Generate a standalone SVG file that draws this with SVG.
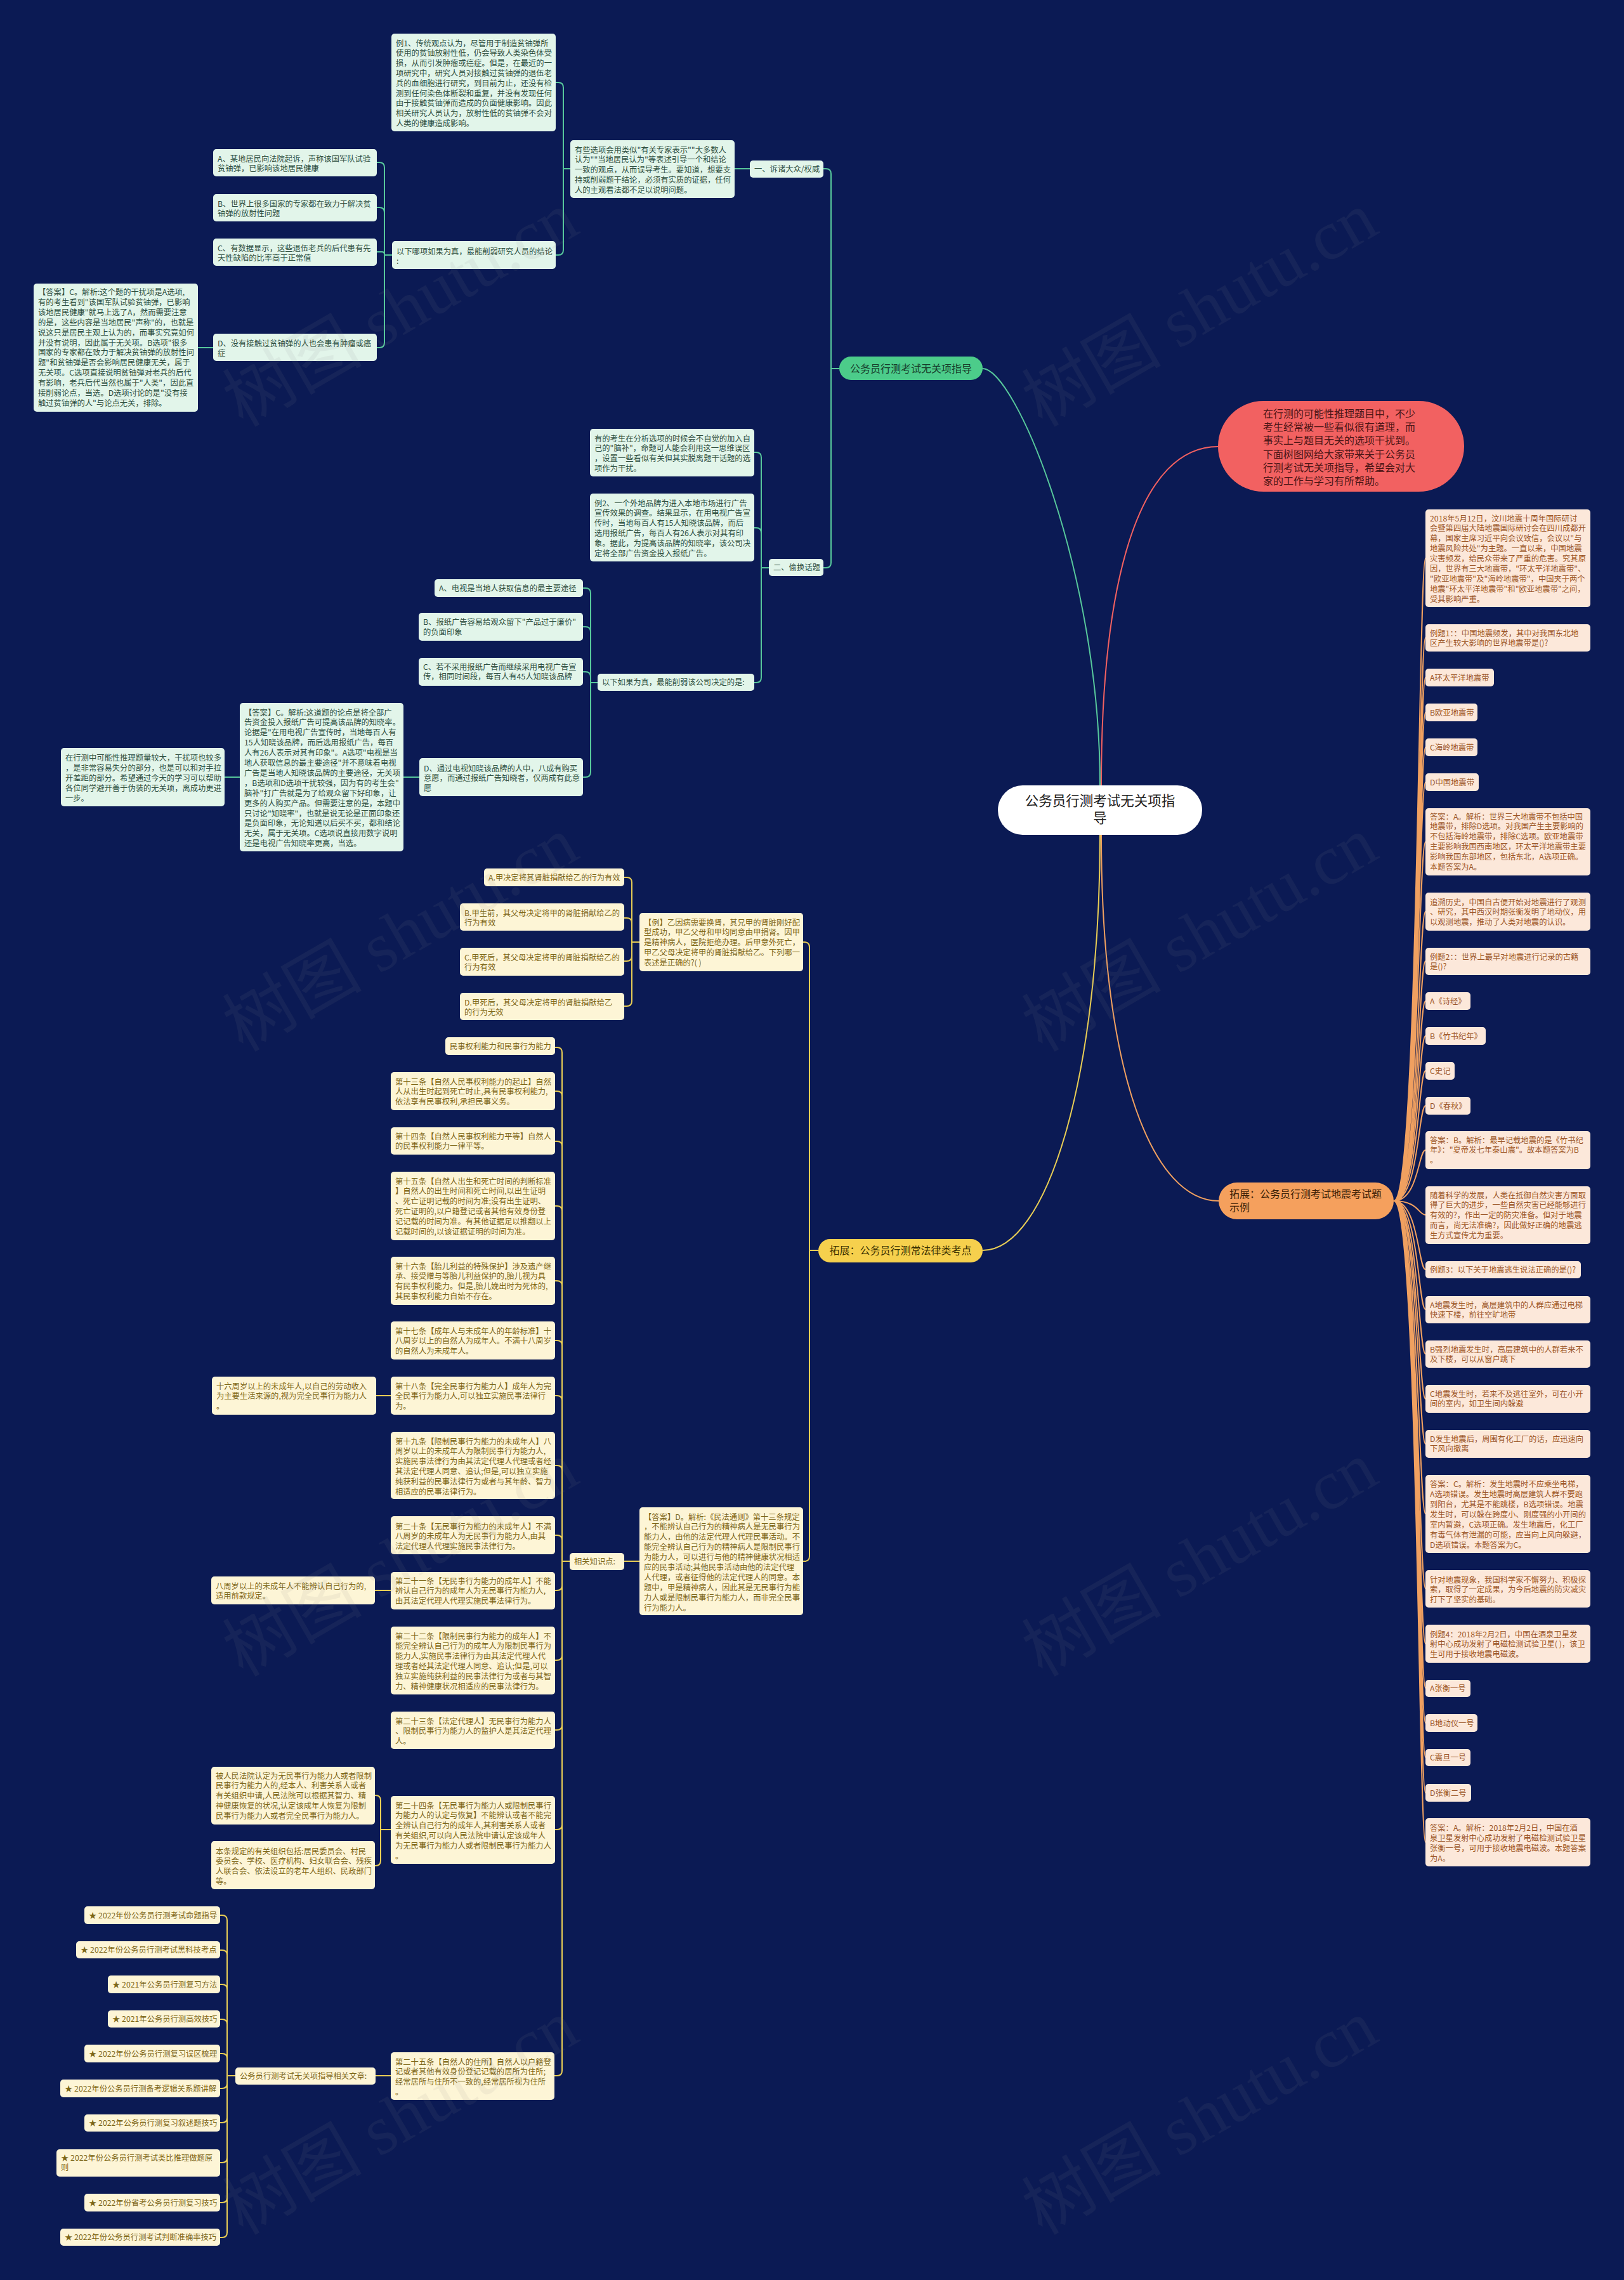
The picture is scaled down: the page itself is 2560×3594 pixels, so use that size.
<svg xmlns="http://www.w3.org/2000/svg" width="2560" height="3594" viewBox="0 0 2560 3594">
<style>
text{font-family:"Noto Sans CJK SC","Noto Sans",sans-serif;}
.t{font-size:12.3px;}
.bg{fill:#e2f5ea;}
.tg{fill:#2f4f3f;}
.by{fill:#fdf5d6;}
.ty{fill:#7d6616;}
.bo{fill:#fce8da;}
.to{fill:#9c5627;}
.cg{fill:none;stroke:#57c79b;stroke-width:2;}
.cy{fill:none;stroke:#e8cd55;stroke-width:2;}
.co{fill:none;stroke:#f0a060;stroke-width:2;}
.cr{fill:none;stroke:#f26161;stroke-width:2;}
.wm{font-family:"Liberation Serif","Noto Sans CJK SC",serif;font-size:110px;fill:#8a8a8a;opacity:0.09;}
</style>
<rect x="0" y="0" width="2560" height="3594" fill="#0b1a54"/>

<g id="connectors">
<path class="cg" d="M1734 1238 C1734 900 1600 581 1549 581"/>
<path class="cr" d="M1736 1238 C1736 900 1800 704 1920 704"/>
<path class="co" d="M1736 1316 C1736 1700 1820 1893 1921 1893"/>
<path class="cy" d="M1734 1316 C1734 1700 1650 1971 1549 1971"/>
<path class="cg" d="M1323 581 H1310 V274 Q1310 266 1302 266 H1298 M1323 581 H1310 V887 Q1310 895 1302 895 H1298 M1182 266 H1158 M899 266 H888 V138 Q888 130 880 130 H876 M899 266 H888 V394 Q888 402 880 402 H876 M618 402 H606 V264 Q606 256 598 256 H594 M618 402 H606 V335 Q606 327 598 327 H594 M618 402 H606 V401 Q606 397 602 397 H594 M618 402 H606 V540 Q606 548 598 548 H594 M336 548 H312 M1212 895 H1200 V721 Q1200 713 1192 713 H1189 M1212 895 H1200 V840 Q1200 832 1192 832 H1189 M1212 895 H1200 V1068 Q1200 1076 1192 1076 H1189 M942 1076 H931 V935 Q931 927 923 927 H919 M942 1076 H931 V996 Q931 988 923 988 H919 M942 1076 H931 V1067 Q931 1059 923 1059 H919 M942 1076 H931 V1217 Q931 1225 923 1225 H919 M661 1225 H636 M378 1225 H354"/>
<path class="cy" d="M1290 1971 H1276 V1493 Q1276 1485 1268 1485 H1266 M1290 1971 H1276 V2453 Q1276 2461 1268 2461 H1266 M1008 1485 H996 V1391 Q996 1383 988 1383 H984 M1008 1485 H996 V1455 Q996 1447 988 1447 H984 M1008 1485 H996 V1507 Q996 1515 988 1515 H984 M1008 1485 H996 V1578 Q996 1586 988 1586 H984 M1008 2461 H984 M898 2461 H886 V1659 Q886 1651 878 1651 H875 M886 1728 Q886 1720 878 1720 H875 M886 1807 Q886 1799 878 1799 H875 M886 1909 Q886 1901 878 1901 H875 M886 2027 Q886 2019 878 2019 H875 M886 2121 Q886 2113 878 2113 H875 M886 2208 Q886 2200 878 2200 H875 M886 2318 Q886 2310 878 2310 H875 M886 2428 Q886 2420 878 2420 H875 M898 2461 H886 V3264 Q886 3272 878 3272 H874 M886 2499 Q886 2507 878 2507 H875 M886 2609 Q886 2617 878 2617 H875 M886 2719 Q886 2727 878 2727 H875 M886 2876 Q886 2884 878 2884 H875 M616 2200 H593 M616 2507 H591 M616 2884 H600 V2838 Q600 2830 592 2830 H591 M616 2884 H600 V2933 Q600 2941 592 2941 H591 M616 3272 H592 M371 3272 H358 V3027 Q358 3019 350 3019 H347 M358 3082 Q358 3074 350 3074 H347 M358 3136 Q358 3128 350 3128 H347 M358 3191 Q358 3183 350 3183 H347 M358 3245 Q358 3237 350 3237 H347 M358 3284 Q358 3292 350 3292 H347 M371 3272 H358 V3519 Q358 3527 350 3527 H347 M358 3338 Q358 3346 350 3346 H347 M358 3401 Q358 3409 350 3409 H347 M358 3464 Q358 3472 350 3472 H347"/>
<path class="co" d="M2197 1893 C2236 1893 2236 880 2247 880 M2197 1893 C2236 1893 2236 1005 2247 1005 M2197 1893 C2236 1893 2236 1068 2247 1068 M2197 1893 C2236 1893 2236 1123 2247 1123 M2197 1893 C2236 1893 2236 1178 2247 1178 M2197 1893 C2236 1893 2236 1233 2247 1233 M2197 1893 C2236 1893 2236 1327 2247 1327 M2197 1893 C2236 1893 2236 1437 2247 1437 M2197 1893 C2236 1893 2236 1515 2247 1515 M2197 1893 C2236 1893 2236 1578 2247 1578 M2197 1893 C2236 1893 2236 1633 2247 1633 M2197 1893 C2236 1893 2236 1688 2247 1688 M2197 1893 C2236 1893 2236 1743 2247 1743 M2197 1893 C2236 1893 2236 1813 2247 1813 M2197 1893 C2236 1893 2236 1915 2247 1915 M2197 1893 C2236 1893 2236 2001 2247 2001 M2197 1893 C2236 1893 2236 2064 2247 2064 M2197 1893 C2236 1893 2236 2134 2247 2134 M2197 1893 C2236 1893 2236 2205 2247 2205 M2197 1893 C2236 1893 2236 2276 2247 2276 M2197 1893 C2236 1893 2236 2386 2247 2386 M2197 1893 C2236 1893 2236 2504 2247 2504 M2197 1893 C2236 1893 2236 2591 2247 2591 M2197 1893 C2236 1893 2236 2661 2247 2661 M2197 1893 C2236 1893 2236 2716 2247 2716 M2197 1893 C2236 1893 2236 2770 2247 2770 M2197 1893 C2236 1893 2236 2826 2247 2826 M2197 1893 C2236 1893 2236 2904 2247 2904"/>
</g>

<g id="root"><rect x="1573" y="1238" width="322" height="78" rx="39" fill="#ffffff"/><text x="1734" y="1270" font-size="21.5" fill="#222" text-anchor="middle">公务员行测考试无关项指<tspan x="1734" dy="27">导</tspan></text></g>

<g id="intro"><rect x="1920" y="632" width="388" height="143" rx="71.5" fill="#f26161"/><text x="1991" y="658" font-size="16" fill="#4a1515">在行测的可能性推理题目中，不少<tspan x="1991" dy="21.2">考生经常被一些看似很有道理，而</tspan><tspan x="1991" dy="21.2">事实上与题目无关的选项干扰到。</tspan><tspan x="1991" dy="21.2">下面树图网给大家带来关于公务员</tspan><tspan x="1991" dy="21.2">行测考试无关项指导，希望会对大</tspan><tspan x="1991" dy="21.2">家的工作与学习有所帮助。</tspan></text></g>

<g id="branch-green"><rect x="1323" y="562" width="226" height="37" rx="18.5" fill="#4ccc8a"/><text x="1436" y="586.5" font-size="16" fill="#173c2b" text-anchor="middle">公务员行测考试无关项指导</text></g>
<g id="branch-orange"><rect x="1921" y="1864" width="276" height="58" rx="29" fill="#f5a05d"/><text x="1938" y="1888" font-size="16" fill="#3b1e05">拓展：公务员行测考试地震考试题<tspan x="1938" dy="21">示例</tspan></text></g>
<g id="branch-yellow"><rect x="1290" y="1953" width="259" height="37" rx="18.5" fill="#f6d04d"/><text x="1419.5" y="1977" font-size="16" fill="#3a3000" text-anchor="middle">拓展：公务员行测常法律类考点</text></g>

<g id="g-li1"><rect class="bg" x="617" y="53" width="259" height="154" rx="5"/><text class="t tg" x="624" y="72.5">例1、传统观点认为，尽管用于制造贫铀弹所<tspan x="624" dy="15.8">使用的贫铀放射性低，仍会导致人类染色体受</tspan><tspan x="624" dy="15.8">损，从而引发肿瘤或癌症。但是，在最近的一</tspan><tspan x="624" dy="15.8">项研究中，研究人员对接触过贫铀弹的退伍老</tspan><tspan x="624" dy="15.8">兵的血细胞进行研究，到目前为止，还没有检</tspan><tspan x="624" dy="15.8">测到任何染色体断裂和重复，并没有发现任何</tspan><tspan x="624" dy="15.8">由于接触贫铀弹而造成的负面健康影响。因此</tspan><tspan x="624" dy="15.8">相关研究人员认为，放射性低的贫铀弹不会对</tspan><tspan x="624" dy="15.8">人类的健康造成影响。</tspan></text></g>
<g id="g-yxxx"><rect class="bg" x="899" y="221" width="259" height="91" rx="5"/><text class="t tg" x="906" y="240.5">有些选项会用类似"有关专家表示""大多数人<tspan x="906" dy="15.8">认为""当地居民认为"等表述引导一个和结论</tspan><tspan x="906" dy="15.8">一致的观点，从而误导考生。要知道，想要支</tspan><tspan x="906" dy="15.8">持或削弱题干结论，必须有实质的证据，任何</tspan><tspan x="906" dy="15.8">人的主观看法都不足以说明问题。</tspan></text></g>
<g id="g-one"><rect class="bg" x="1182" y="253" width="116" height="27" rx="5"/><text class="t tg" x="1189" y="271">一、诉诸大众/权威</text></g>
<g id="g-q1"><rect class="bg" x="618" y="380" width="258" height="44" rx="5"/><text class="t tg" x="625" y="400.5">以下哪项如果为真，最能削弱研究人员的结论<tspan x="625" dy="15.8">:</tspan></text></g>
<g id="g-a1"><rect class="bg" x="336" y="235" width="258" height="43" rx="5"/><text class="t tg" x="343" y="254.5">A、某地居民向法院起诉，声称该国军队试验<tspan x="343" dy="15.8">贫铀弹，已影响该地居民健康</tspan></text></g>
<g id="g-b1"><rect class="bg" x="336" y="306" width="258" height="43" rx="5"/><text class="t tg" x="343" y="325.5">B、世界上很多国家的专家都在致力于解决贫<tspan x="343" dy="15.8">铀弹的放射性问题</tspan></text></g>
<g id="g-c1"><rect class="bg" x="336" y="376" width="258" height="43" rx="5"/><text class="t tg" x="343" y="395.5">C、有数据显示，这些退伍老兵的后代患有先<tspan x="343" dy="15.8">天性缺陷的比率高于正常值</tspan></text></g>
<g id="g-d1"><rect class="bg" x="336" y="526" width="258" height="43" rx="5"/><text class="t tg" x="343" y="545.5">D、没有接触过贫铀弹的人也会患有肿瘤或癌<tspan x="343" dy="15.8">症</tspan></text></g>
<g id="g-ans1"><rect class="bg" x="53" y="447" width="259" height="202" rx="5"/><text class="t tg" x="60" y="465">【答案】C。解析:这个题的干扰项是A选项,<tspan x="60" dy="15.9">有的考生看到"该国军队试验贫铀弹，已影响</tspan><tspan x="60" dy="15.9">该地居民健康"就马上选了A，然而需要注意</tspan><tspan x="60" dy="15.9">的是，这些内容是当地居民"声称"的，也就是</tspan><tspan x="60" dy="15.9">说这只是居民主观上认为的，而事实究竟如何</tspan><tspan x="60" dy="15.9">并没有说明，因此属于无关项。B选项"很多</tspan><tspan x="60" dy="15.9">国家的专家都在致力于解决贫铀弹的放射性问</tspan><tspan x="60" dy="15.9">题"和贫铀弹是否会影响居民健康无关，属于</tspan><tspan x="60" dy="15.9">无关项。C选项直接说明贫铀弹对老兵的后代</tspan><tspan x="60" dy="15.9">有影响，老兵后代当然也属于"人类"，因此直</tspan><tspan x="60" dy="15.9">接削弱论点，当选。D选项讨论的是"没有接</tspan><tspan x="60" dy="15.9">触过贫铀弹的人"与论点无关，排除。</tspan></text></g>
<g id="g-two"><rect class="bg" x="1212" y="881" width="86" height="27" rx="5"/><text class="t tg" x="1219" y="899">二、偷换话题</text></g>
<g id="g-yds"><rect class="bg" x="930" y="676" width="259" height="75" rx="5"/><text class="t tg" x="937" y="695.5">有的考生在分析选项的时候会不自觉的加入自<tspan x="937" dy="15.8">己的"脑补"，命题可人能会利用这一思维误区</tspan><tspan x="937" dy="15.8">，设置一些看似有关但其实脱离题干话题的选</tspan><tspan x="937" dy="15.8">项作为干扰。</tspan></text></g>
<g id="g-li2"><rect class="bg" x="930" y="778" width="259" height="107" rx="5"/><text class="t tg" x="937" y="797.5">例2、一个外地品牌为进入本地市场进行广告<tspan x="937" dy="15.8">宣传效果的调查。结果显示，在用电视广告宣</tspan><tspan x="937" dy="15.8">传时，当地每百人有15人知晓该品牌，而后</tspan><tspan x="937" dy="15.8">选用报纸广告，每百人有26人表示对其有印</tspan><tspan x="937" dy="15.8">象。据此，为提高该品牌的知晓率，该公司决</tspan><tspan x="937" dy="15.8">定将全部广告资金投入报纸广告。</tspan></text></g>
<g id="g-q2"><rect class="bg" x="942" y="1062" width="247" height="27" rx="5"/><text class="t tg" x="949" y="1080">以下如果为真，最能削弱该公司决定的是:</text></g>
<g id="g-a2"><rect class="bg" x="685" y="913" width="234" height="28" rx="5"/><text class="t tg" x="692" y="931.5">A、电视是当地人获取信息的最主要途径</text></g>
<g id="g-b2"><rect class="bg" x="660" y="966" width="259" height="44" rx="5"/><text class="t tg" x="667" y="985">B、报纸广告容易给观众留下"产品过于廉价"<tspan x="667" dy="15.8">的负面印象</tspan></text></g>
<g id="g-c2"><rect class="bg" x="660" y="1037" width="259" height="44" rx="5"/><text class="t tg" x="667" y="1055.5">C、若不采用报纸广告而继续采用电视广告宣<tspan x="667" dy="15.8">传，相同时间段，每百人有45人知晓该品牌</tspan></text></g>
<g id="g-d2"><rect class="bg" x="661" y="1195" width="258" height="60" rx="5"/><text class="t tg" x="668" y="1215.5">D、通过电视知晓该品牌的人中，八成有购买<tspan x="668" dy="15.8">意愿，而通过报纸广告知晓者，仅两成有此意</tspan><tspan x="668" dy="15.8">愿</tspan></text></g>
<g id="g-ans2"><rect class="bg" x="378" y="1108" width="258" height="234" rx="5"/><text class="t tg" x="385" y="1127.5">【答案】C。解析:这道题的论点是将全部广<tspan x="385" dy="15.9">告资金投入报纸广告可提高该品牌的知晓率。</tspan><tspan x="385" dy="15.9">论据是"在用电视广告宣传时，当地每百人有</tspan><tspan x="385" dy="15.9">15人知晓该品牌，而后选用报纸广告，每百</tspan><tspan x="385" dy="15.9">人有26人表示对其有印象"。A选项"电视是当</tspan><tspan x="385" dy="15.9">地人获取信息的最主要途径"并不意味着电视</tspan><tspan x="385" dy="15.9">广告是当地人知晓该品牌的主要途径，无关项</tspan><tspan x="385" dy="15.9">，B选项和D选项干扰较强，因为有的考生会"</tspan><tspan x="385" dy="15.9">脑补"打广告就是为了给观众留下好印象，让</tspan><tspan x="385" dy="15.9">更多的人购买产品。但需要注意的是，本题中</tspan><tspan x="385" dy="15.9">只讨论"知晓率"，也就是说无论是正面印象还</tspan><tspan x="385" dy="15.9">是负面印象，无论知道以后买不买，都和结论</tspan><tspan x="385" dy="15.9">无关，属于无关项。C选项说直接用数字说明</tspan><tspan x="385" dy="15.9">还是电视广告知晓率更高，当选。</tspan></text></g>
<g id="g-sum"><rect class="bg" x="96" y="1179" width="258" height="92" rx="5"/><text class="t tg" x="103" y="1198.5">在行测中可能性推理题量较大，干扰项也较多<tspan x="103" dy="16">，是非常容易失分的部分，也是可以和对手拉</tspan><tspan x="103" dy="16">开差距的部分。希望通过今天的学习可以帮助</tspan><tspan x="103" dy="16">各位同学避开善于伪装的无关项，离成功更进</tspan><tspan x="103" dy="16">一步。</tspan></text></g>

<g id="y-li"><rect class="by" x="1008" y="1439" width="258" height="92" rx="5"/><text class="t ty" x="1015" y="1458.5">【例】乙因病需要换肾，其兄甲的肾脏刚好配<tspan x="1015" dy="15.8">型成功，甲乙父母和甲均同意由甲捐肾。因甲</tspan><tspan x="1015" dy="15.8">是精神病人，医院拒绝办理。后甲意外死亡，</tspan><tspan x="1015" dy="15.8">甲乙父母决定将甲的肾脏捐献给乙。下列哪一</tspan><tspan x="1015" dy="15.8">表述是正确的?( )</tspan></text></g>
<g id="y-a"><rect class="by" x="763" y="1369" width="221" height="28" rx="5"/><text class="t ty" x="770" y="1387.5">A.甲决定将其肾脏捐献给乙的行为有效</text></g>
<g id="y-b"><rect class="by" x="725" y="1424" width="259" height="43" rx="5"/><text class="t ty" x="732" y="1443.5">B.甲生前，其父母决定将甲的肾脏捐献给乙的<tspan x="732" dy="15.8">行为有效</tspan></text></g>
<g id="y-c"><rect class="by" x="725" y="1494" width="259" height="44" rx="5"/><text class="t ty" x="732" y="1513.5">C.甲死后，其父母决定将甲的肾脏捐献给乙的<tspan x="732" dy="15.8">行为有效</tspan></text></g>
<g id="y-d"><rect class="by" x="725" y="1565" width="259" height="43" rx="5"/><text class="t ty" x="732" y="1584.5">D.甲死后，其父母决定将甲的肾脏捐献给乙<tspan x="732" dy="15.8">的行为无效</tspan></text></g>
<g id="y-ans"><rect class="by" x="1008" y="2376" width="258" height="170" rx="5"/><text class="t ty" x="1015" y="2395.5">【答案】D。解析:《民法通则》第十三条规定<tspan x="1015" dy="15.9">，不能辨认自己行为的精神病人是无民事行为</tspan><tspan x="1015" dy="15.9">能力人，由他的法定代理人代理民事活动。不</tspan><tspan x="1015" dy="15.9">能完全辨认自己行为的精神病人是限制民事行</tspan><tspan x="1015" dy="15.9">为能力人，可以进行与他的精神健康状况相适</tspan><tspan x="1015" dy="15.9">应的民事活动;其他民事活动由他的法定代理</tspan><tspan x="1015" dy="15.9">人代理，或者征得他的法定代理人的同意。本</tspan><tspan x="1015" dy="15.9">题中，甲是精神病人，因此其是无民事行为能</tspan><tspan x="1015" dy="15.9">力人或是限制民事行为能力人，而非完全民事</tspan><tspan x="1015" dy="15.9">行为能力人。</tspan></text></g>
<g id="y-kp"><rect class="by" x="898" y="2448" width="86" height="27" rx="5"/><text class="t ty" x="905" y="2466">相关知识点:</text></g>
<g id="y-ms"><rect class="by" x="702" y="1635" width="173" height="28" rx="5"/><text class="t ty" x="709" y="1653.5">民事权利能力和民事行为能力</text></g>
<g id="y-13"><rect class="by" x="616" y="1690" width="259" height="60" rx="5"/><text class="t ty" x="623" y="1709.5">第十三条【自然人民事权利能力的起止】自然<tspan x="623" dy="15.8">人从出生时起到死亡时止,具有民事权利能力,</tspan><tspan x="623" dy="15.8">依法享有民事权利,承担民事义务。</tspan></text></g>
<g id="y-14"><rect class="by" x="616" y="1777" width="259" height="43" rx="5"/><text class="t ty" x="623" y="1795.5">第十四条【自然人民事权利能力平等】自然人<tspan x="623" dy="15.8">的民事权利能力一律平等。</tspan></text></g>
<g id="y-15"><rect class="by" x="616" y="1847" width="259" height="108" rx="5"/><text class="t ty" x="623" y="1866.5">第十五条【自然人出生和死亡时间的判断标准<tspan x="623" dy="15.8">】自然人的出生时间和死亡时间,以出生证明</tspan><tspan x="623" dy="15.8">、死亡证明记载的时间为准;没有出生证明、</tspan><tspan x="623" dy="15.8">死亡证明的,以户籍登记或者其他有效身份登</tspan><tspan x="623" dy="15.8">记记载的时间为准。有其他证据足以推翻以上</tspan><tspan x="623" dy="15.8">记载时间的,以该证据证明的时间为准。</tspan></text></g>
<g id="y-16"><rect class="by" x="616" y="1981" width="259" height="76" rx="5"/><text class="t ty" x="623" y="2000.5">第十六条【胎儿利益的特殊保护】涉及遗产继<tspan x="623" dy="15.8">承、接受赠与等胎儿利益保护的,胎儿视为具</tspan><tspan x="623" dy="15.8">有民事权利能力。但是,胎儿娩出时为死体的,</tspan><tspan x="623" dy="15.8">其民事权利能力自始不存在。</tspan></text></g>
<g id="y-17"><rect class="by" x="616" y="2083" width="259" height="60" rx="5"/><text class="t ty" x="623" y="2102.5">第十七条【成年人与未成年人的年龄标准】十<tspan x="623" dy="15.8">八周岁以上的自然人为成年人。不满十八周岁</tspan><tspan x="623" dy="15.8">的自然人为未成年人。</tspan></text></g>
<g id="y-18"><rect class="by" x="616" y="2170" width="259" height="60" rx="5"/><text class="t ty" x="623" y="2189.5">第十八条【完全民事行为能力人】成年人为完<tspan x="623" dy="15.8">全民事行为能力人,可以独立实施民事法律行</tspan><tspan x="623" dy="15.8">为。</tspan></text></g>
<g id="y-16s"><rect class="by" x="334" y="2170" width="259" height="60" rx="5"/><text class="t ty" x="341" y="2189.5">十六周岁以上的未成年人,以自己的劳动收入<tspan x="341" dy="15.8">为主要生活来源的,视为完全民事行为能力人</tspan><tspan x="341" dy="15.8">。</tspan></text></g>
<g id="y-19"><rect class="by" x="616" y="2257" width="259" height="106" rx="5"/><text class="t ty" x="623" y="2276.5">第十九条【限制民事行为能力的未成年人】八<tspan x="623" dy="15.8">周岁以上的未成年人为限制民事行为能力人,</tspan><tspan x="623" dy="15.8">实施民事法律行为由其法定代理人代理或者经</tspan><tspan x="623" dy="15.8">其法定代理人同意、追认;但是,可以独立实施</tspan><tspan x="623" dy="15.8">纯获利益的民事法律行为或者与其年龄、智力</tspan><tspan x="623" dy="15.8">相适应的民事法律行为。</tspan></text></g>
<g id="y-20"><rect class="by" x="616" y="2390" width="259" height="60" rx="5"/><text class="t ty" x="623" y="2410.5">第二十条【无民事行为能力的未成年人】不满<tspan x="623" dy="15.8">八周岁的未成年人为无民事行为能力人,由其</tspan><tspan x="623" dy="15.8">法定代理人代理实施民事法律行为。</tspan></text></g>
<g id="y-21"><rect class="by" x="616" y="2478" width="259" height="59" rx="5"/><text class="t ty" x="623" y="2496.5">第二十一条【无民事行为能力的成年人】不能<tspan x="623" dy="15.8">辨认自己行为的成年人为无民事行为能力人,</tspan><tspan x="623" dy="15.8">由其法定代理人代理实施民事法律行为。</tspan></text></g>
<g id="y-8s"><rect class="by" x="333" y="2485" width="258" height="44" rx="5"/><text class="t ty" x="340" y="2504.5">八周岁以上的未成年人不能辨认自己行为的,<tspan x="340" dy="15.8">适用前款规定。</tspan></text></g>
<g id="y-22"><rect class="by" x="616" y="2564" width="259" height="107" rx="5"/><text class="t ty" x="623" y="2583.5">第二十二条【限制民事行为能力的成年人】不<tspan x="623" dy="15.8">能完全辨认自己行为的成年人为限制民事行为</tspan><tspan x="623" dy="15.8">能力人,实施民事法律行为由其法定代理人代</tspan><tspan x="623" dy="15.8">理或者经其法定代理人同意、追认;但是,可以</tspan><tspan x="623" dy="15.8">独立实施纯获利益的民事法律行为或者与其智</tspan><tspan x="623" dy="15.8">力、精神健康状况相适应的民事法律行为。</tspan></text></g>
<g id="y-23"><rect class="by" x="616" y="2698" width="259" height="59" rx="5"/><text class="t ty" x="623" y="2717.5">第二十三条【法定代理人】无民事行为能力人<tspan x="623" dy="15.8">、限制民事行为能力人的监护人是其法定代理</tspan><tspan x="623" dy="15.8">人。</tspan></text></g>
<g id="y-24"><rect class="by" x="616" y="2831" width="259" height="107" rx="5"/><text class="t ty" x="623" y="2850.5">第二十四条【无民事行为能力人或限制民事行<tspan x="623" dy="15.8">为能力人的认定与恢复】不能辨认或者不能完</tspan><tspan x="623" dy="15.8">全辨认自己行为的成年人,其利害关系人或者</tspan><tspan x="623" dy="15.8">有关组织,可以向人民法院申请认定该成年人</tspan><tspan x="623" dy="15.8">为无民事行为能力人或者限制民事行为能力人</tspan><tspan x="623" dy="15.8">。</tspan></text></g>
<g id="y-bei"><rect class="by" x="333" y="2785" width="258" height="91" rx="5"/><text class="t ty" x="340" y="2803.5">被人民法院认定为无民事行为能力人或者限制<tspan x="340" dy="15.9">民事行为能力人的,经本人、利害关系人或者</tspan><tspan x="340" dy="15.9">有关组织申请,人民法院可以根据其智力、精</tspan><tspan x="340" dy="15.9">神健康恢复的状况,认定该成年人恢复为限制</tspan><tspan x="340" dy="15.9">民事行为能力人或者完全民事行为能力人。</tspan></text></g>
<g id="y-ben"><rect class="by" x="333" y="2902" width="258" height="76" rx="5"/><text class="t ty" x="340" y="2922.5">本条规定的有关组织包括:居民委员会、村民<tspan x="340" dy="15.9">委员会、学校、医疗机构、妇女联合会、残疾</tspan><tspan x="340" dy="15.9">人联合会、依法设立的老年人组织、民政部门</tspan><tspan x="340" dy="15.9">等。</tspan></text></g>
<g id="y-25"><rect class="by" x="616" y="3235" width="258" height="75" rx="5"/><text class="t ty" x="623" y="3254.5">第二十五条【自然人的住所】自然人以户籍登<tspan x="623" dy="15.8">记或者其他有效身份登记记载的居所为住所;</tspan><tspan x="623" dy="15.8">经常居所与住所不一致的,经常居所视为住所</tspan><tspan x="623" dy="15.8">。</tspan></text></g>
<g id="y-art"><rect class="by" x="371" y="3259" width="221" height="27" rx="5"/><text class="t ty" x="378" y="3277">公务员行测考试无关项指导相关文章:</text></g>
<g id="y-s1"><rect class="by" x="133" y="3005" width="214" height="28" rx="5"/><text class="t ty" x="140" y="3023.5">★ 2022年份公务员行测考试命题指导</text></g>
<g id="y-s2"><rect class="by" x="120" y="3060" width="227" height="27" rx="5"/><text class="t ty" x="127" y="3078">★ 2022年份公务员行测考试黑科技考点</text></g>
<g id="y-s3"><rect class="by" x="170" y="3114" width="177" height="28" rx="5"/><text class="t ty" x="177" y="3132.5">★ 2021年公务员行测复习方法</text></g>
<g id="y-s4"><rect class="by" x="170" y="3169" width="177" height="27" rx="5"/><text class="t ty" x="177" y="3187">★ 2021年公务员行测高效技巧</text></g>
<g id="y-s5"><rect class="by" x="133" y="3223" width="214" height="28" rx="5"/><text class="t ty" x="140" y="3241.5">★ 2022年份公务员行测复习误区梳理</text></g>
<g id="y-s6"><rect class="by" x="95" y="3278" width="252" height="28" rx="5"/><text class="t ty" x="102" y="3296.5">★ 2022年份公务员行测备考逻辑关系题讲解</text></g>
<g id="y-s7"><rect class="by" x="133" y="3333" width="214" height="27" rx="5"/><text class="t ty" x="140" y="3351">★ 2022年公务员行测复习叙述题技巧</text></g>
<g id="y-s8"><rect class="by" x="89" y="3388" width="258" height="43" rx="5"/><text class="t ty" x="96" y="3405.5">★ 2022年份公务员行测考试类比推理做题原<tspan x="96" dy="15.8">则</tspan></text></g>
<g id="y-s9"><rect class="by" x="133" y="3458" width="214" height="28" rx="5"/><text class="t ty" x="140" y="3476.5">★ 2022年份省考公务员行测复习技巧</text></g>
<g id="y-s10"><rect class="by" x="95" y="3513" width="252" height="27" rx="5"/><text class="t ty" x="102" y="3531">★ 2022年份公务员行测考试判断准确率技巧</text></g>

<g id="o-2018"><rect class="bo" x="2247" y="803" width="260" height="154" rx="5"/><text class="t to" x="2254" y="821.5">2018年5月12日，汶川地震十周年国际研讨<tspan x="2254" dy="15.9">会暨第四届大陆地震国际研讨会在四川成都开</tspan><tspan x="2254" dy="15.9">幕，国家主席习近平向会议致信，会议以"与</tspan><tspan x="2254" dy="15.9">地震风险共处"为主题。一直以来，中国地震</tspan><tspan x="2254" dy="15.9">灾害频发，给民众带来了严重的危害。究其原</tspan><tspan x="2254" dy="15.9">因，世界有三大地震带，"环太平洋地震带"、</tspan><tspan x="2254" dy="15.9">"欧亚地震带"及"海岭地震带"，中国夹于两个</tspan><tspan x="2254" dy="15.9">地震"环太平洋地震带"和"欧亚地震带"之间，</tspan><tspan x="2254" dy="15.9">受其影响严重。</tspan></text></g>
<g id="o-q1"><rect class="bo" x="2247" y="984" width="260" height="43" rx="5"/><text class="t to" x="2254" y="1002.5">例题1：：中国地震频发，其中对我国东北地<tspan x="2254" dy="15.8">区产生较大影响的世界地震带是()?</tspan></text></g>
<g id="o-q1a"><rect class="bo" x="2247" y="1054" width="108" height="28" rx="5"/><text class="t to" x="2254" y="1072.5">A环太平洋地震带</text></g>
<g id="o-q1b"><rect class="bo" x="2247" y="1109" width="82" height="28" rx="5"/><text class="t to" x="2254" y="1127.5">B欧亚地震带</text></g>
<g id="o-q1c"><rect class="bo" x="2247" y="1164" width="82" height="28" rx="5"/><text class="t to" x="2254" y="1182.5">C海岭地震带</text></g>
<g id="o-q1d"><rect class="bo" x="2247" y="1219" width="84" height="28" rx="5"/><text class="t to" x="2254" y="1237.5">D中国地震带</text></g>
<g id="o-a1"><rect class="bo" x="2247" y="1274" width="260" height="106" rx="5"/><text class="t to" x="2254" y="1291.5">答案：A。解析：世界三大地震带不包括中国<tspan x="2254" dy="15.9">地震带，排除D选项。对我国产生主要影响的</tspan><tspan x="2254" dy="15.9">不包括海岭地震带，排除C选项。欧亚地震带</tspan><tspan x="2254" dy="15.9">主要影响我国西南地区，环太平洋地震带主要</tspan><tspan x="2254" dy="15.9">影响我国东部地区，包括东北，A选项正确。</tspan><tspan x="2254" dy="15.9">本题答案为A。</tspan></text></g>
<g id="o-hist"><rect class="bo" x="2247" y="1407" width="260" height="60" rx="5"/><text class="t to" x="2254" y="1426.5">追溯历史，中国自古便开始对地震进行了观测<tspan x="2254" dy="15.8">、研究，其中西汉时期张衡发明了地动仪，用</tspan><tspan x="2254" dy="15.8">以观测地震，推动了人类对地震的认识。</tspan></text></g>
<g id="o-q2"><rect class="bo" x="2247" y="1494" width="260" height="43" rx="5"/><text class="t to" x="2254" y="1512.5">例题2：：世界上最早对地震进行记录的古籍<tspan x="2254" dy="15.8">是()?</tspan></text></g>
<g id="o-q2a"><rect class="bo" x="2247" y="1564" width="71" height="28" rx="5"/><text class="t to" x="2254" y="1582.5">A《诗经》</text></g>
<g id="o-q2b"><rect class="bo" x="2247" y="1619" width="95" height="28" rx="5"/><text class="t to" x="2254" y="1637.5">B《竹书纪年》</text></g>
<g id="o-q2c"><rect class="bo" x="2247" y="1674" width="46" height="28" rx="5"/><text class="t to" x="2254" y="1692.5">C史记</text></g>
<g id="o-q2d"><rect class="bo" x="2247" y="1729" width="71" height="28" rx="5"/><text class="t to" x="2254" y="1747.5">D《春秋》</text></g>
<g id="o-a2"><rect class="bo" x="2247" y="1783" width="260" height="60" rx="5"/><text class="t to" x="2254" y="1801.5">答案：B。解析：最早记载地震的是《竹书纪<tspan x="2254" dy="15.8">年》："夏帝发七年泰山震"。故本题答案为B</tspan><tspan x="2254" dy="15.8">。</tspan></text></g>
<g id="o-sci"><rect class="bo" x="2247" y="1870" width="260" height="91" rx="5"/><text class="t to" x="2254" y="1888.5">随着科学的发展，人类在抵御自然灾害方面取<tspan x="2254" dy="15.8">得了巨大的进步，一些自然灾害已经能够进行</tspan><tspan x="2254" dy="15.8">有效的?，作出一定的防灾准备。但对于地震</tspan><tspan x="2254" dy="15.8">而言，尚无法准确?，因此做好正确的地震逃</tspan><tspan x="2254" dy="15.8">生方式宣传尤为重要。</tspan></text></g>
<g id="o-q3"><rect class="bo" x="2247" y="1988" width="245" height="27" rx="5"/><text class="t to" x="2254" y="2006">例题3：以下关于地震逃生说法正确的是()?</text></g>
<g id="o-q3a"><rect class="bo" x="2247" y="2043" width="260" height="43" rx="5"/><text class="t to" x="2254" y="2061.5">A地震发生时，高层建筑中的人群应通过电梯<tspan x="2254" dy="15.8">快速下楼，前往空旷地带</tspan></text></g>
<g id="o-q3b"><rect class="bo" x="2247" y="2113" width="260" height="43" rx="5"/><text class="t to" x="2254" y="2131.5">B强烈地震发生时，高层建筑中的人群若来不<tspan x="2254" dy="15.8">及下楼，可以从窗户跳下</tspan></text></g>
<g id="o-q3c"><rect class="bo" x="2247" y="2183" width="260" height="44" rx="5"/><text class="t to" x="2254" y="2201.5">C地震发生时，若来不及逃往室外，可在小开<tspan x="2254" dy="15.8">间的室内，如卫生间内躲避</tspan></text></g>
<g id="o-q3d"><rect class="bo" x="2247" y="2254" width="260" height="44" rx="5"/><text class="t to" x="2254" y="2272.5">D发生地震后，周围有化工厂的话，应迅速向<tspan x="2254" dy="15.8">下风向撤离</tspan></text></g>
<g id="o-a3"><rect class="bo" x="2247" y="2325" width="260" height="123" rx="5"/><text class="t to" x="2254" y="2343.5">答案：C。解析：发生地震时不应乘坐电梯，<tspan x="2254" dy="16">A选项错误。发生地震时高层建筑人群不要跑</tspan><tspan x="2254" dy="16">到阳台，尤其是不能跳楼，B选项错误。地震</tspan><tspan x="2254" dy="16">发生时，可以躲在跨度小、刚度强的小开间的</tspan><tspan x="2254" dy="16">室内暂避，C选项正确。发生地震后，化工厂</tspan><tspan x="2254" dy="16">有毒气体有泄漏的可能，应当向上风向躲避，</tspan><tspan x="2254" dy="16">D选项错误。本题答案为C。</tspan></text></g>
<g id="o-res"><rect class="bo" x="2247" y="2475" width="260" height="59" rx="5"/><text class="t to" x="2254" y="2494.5">针对地震现象，我国科学家不懈努力、积极探<tspan x="2254" dy="15.6">索，取得了一定成果，为今后地震的防灾减灾</tspan><tspan x="2254" dy="15.6">打下了坚实的基础。</tspan></text></g>
<g id="o-q4"><rect class="bo" x="2247" y="2561" width="260" height="60" rx="5"/><text class="t to" x="2254" y="2580.5">例题4：2018年2月2日，中国在酒泉卫星发<tspan x="2254" dy="15.8">射中心成功发射了电磁检测试验卫星( )，该卫</tspan><tspan x="2254" dy="15.8">生可用于接收地震电磁波。</tspan></text></g>
<g id="o-q4a"><rect class="bo" x="2247" y="2648" width="71" height="27" rx="5"/><text class="t to" x="2254" y="2666">A张衡一号</text></g>
<g id="o-q4b"><rect class="bo" x="2247" y="2702" width="82" height="28" rx="5"/><text class="t to" x="2254" y="2720.5">B地动仪一号</text></g>
<g id="o-q4c"><rect class="bo" x="2247" y="2757" width="71" height="27" rx="5"/><text class="t to" x="2254" y="2775">C震旦一号</text></g>
<g id="o-q4d"><rect class="bo" x="2247" y="2812" width="72" height="28" rx="5"/><text class="t to" x="2254" y="2830.5">D张衡二号</text></g>
<g id="o-a4"><rect class="bo" x="2247" y="2866" width="260" height="76" rx="5"/><text class="t to" x="2254" y="2885.5">答案：A。解析：2018年2月2日，中国在酒<tspan x="2254" dy="16">泉卫星发射中心成功发射了电磁检测试验卫星</tspan><tspan x="2254" dy="16">张衡一号，可用于接收地震电磁波。本题答案</tspan><tspan x="2254" dy="16">为A。</tspan></text></g>

<g id="watermarks">
<text class="wm" x="650" y="520" text-anchor="middle" transform="rotate(-30 650 520)">树图 shutu.cn</text>
<text class="wm" x="1910" y="520" text-anchor="middle" transform="rotate(-30 1910 520)">树图 shutu.cn</text>
<text class="wm" x="650" y="1505" text-anchor="middle" transform="rotate(-30 650 1505)">树图 shutu.cn</text>
<text class="wm" x="1910" y="1505" text-anchor="middle" transform="rotate(-30 1910 1505)">树图 shutu.cn</text>
<text class="wm" x="650" y="2490" text-anchor="middle" transform="rotate(-30 650 2490)">树图 shutu.cn</text>
<text class="wm" x="1910" y="2490" text-anchor="middle" transform="rotate(-30 1910 2490)">树图 shutu.cn</text>
<text class="wm" x="650" y="3370" text-anchor="middle" transform="rotate(-30 650 3370)">树图 shutu.cn</text>
<text class="wm" x="1910" y="3370" text-anchor="middle" transform="rotate(-30 1910 3370)">树图 shutu.cn</text>
</g>
</svg>
